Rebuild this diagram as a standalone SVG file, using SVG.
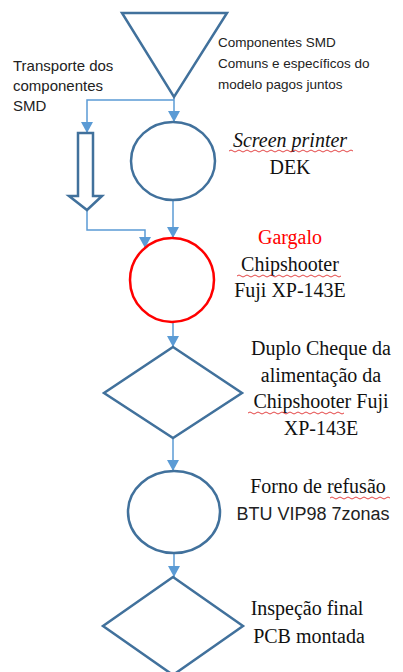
<svg xmlns="http://www.w3.org/2000/svg" width="403" height="672" viewBox="0 0 403 672">
<style>
.shape{fill:none;stroke:#41719C;stroke-width:2.5;stroke-linejoin:miter}
.red{fill:none;stroke:#FF0000;stroke-width:2.5}
.con{fill:none;stroke:#5B9BD5;stroke-width:1.5}
.sans{font-family:"Liberation Sans",Arial,sans-serif;font-size:13.5px;fill:#222}
.serif{font-family:"Liberation Serif","Times New Roman",serif;font-size:20px;fill:#111;text-anchor:middle}
.squig{fill:none;stroke:#E03030;stroke-width:0.9}
</style>
<defs>
<marker id="arrd" markerUnits="userSpaceOnUse" markerWidth="12" markerHeight="12" viewBox="0 0 12 12" refX="11" refY="6" orient="auto">
<path d="M0,0 L11,6 L0,12 Z" fill="#5B9BD5"/>
</marker>
</defs>
<rect width="403" height="672" fill="#fff"/>
<g id="connectors">
<path class="con" d="M174,98 L174,122" marker-end="url(#arrd)"/>
<path class="con" d="M174,100 L87,100 L87,133" marker-end="url(#arrd)"/>
<path class="con" d="M87,210 L87,230 L145,230 L145,248" marker-end="url(#arrd)"/>
<path class="con" d="M173,200 L173,238" marker-end="url(#arrd)"/>
<path class="con" d="M173,322 L173,347" marker-end="url(#arrd)"/>
<path class="con" d="M173,438 L173,471" marker-end="url(#arrd)"/>
<path class="con" d="M174,553 L174,577" marker-end="url(#arrd)"/>
</g>
<g id="inventory">
<polygon class="shape" points="122,13 227,13 174,97"/>
<text class="sans" x="218" y="47">Componentes SMD</text>
<text class="sans" x="218" y="68">Comuns e específicos do</text>
<text class="sans" x="218" y="89">modelo pagos  juntos</text>
</g>
<g id="transport">
<polygon class="shape" points="78,133 93,133 93,196 102,196 87,210 69,196 78,196"/>
<text class="sans" x="13" y="71" style="font-size:15px">Transporte dos</text>
<text class="sans" x="13" y="91" style="font-size:15px">componentes</text>
<text class="sans" x="13" y="111" style="font-size:15px">SMD</text>
</g>
<g id="screen-printer">
<ellipse class="shape" cx="173" cy="161" rx="42" ry="39"/>
<text class="serif" x="290" y="147" font-style="italic">Screen printer</text>
<text class="serif" x="290" y="174">DEK</text>
<path class="squig" d="M229,151 q2,-2 4,0 t4,0 t4,0 t4,0 t4,0 t4,0 t4,0 t4,0 t4,0 t4,0 t4,0 t4,0 t4,0 t4,0 t4,0 t4,0 t4,0 t4,0 t4,0 t4,0 t4,0 t4,0 t4,0 t4,0 t4,0 t4,0 t4,0 t4,0 t4,0 t4,0 t4,0"/>
</g>
<g id="chipshooter">
<ellipse class="red" cx="172" cy="280" rx="42" ry="42"/>
<text class="serif" x="290" y="244" style="fill:#FF0000">Gargalo</text>
<text class="serif" x="290" y="271">Chipshooter</text>
<text class="serif" x="290" y="297">Fuji XP-143E</text>
<path class="squig" d="M237,276 q2,-2 4,0 t4,0 t4,0 t4,0 t4,0 t4,0 t4,0 t4,0 t4,0 t4,0 t4,0 t4,0 t4,0 t4,0 t4,0 t4,0 t4,0 t4,0 t4,0 t4,0 t4,0 t4,0 t4,0 t4,0 t4,0 t4,0"/>
</g>
<g id="double-check">
<polygon class="shape" points="173,347 242,393 173,438 104,393"/>
<text class="serif" x="321" y="355">Duplo Cheque da</text>
<text class="serif" x="321" y="382">alimentação da</text>
<text class="serif" x="321" y="408">Chipshooter Fuji</text>
<text class="serif" x="321" y="435">XP-143E</text>
<path class="squig" d="M248,413 q2,-2 4,0 t4,0 t4,0 t4,0 t4,0 t4,0 t4,0 t4,0 t4,0 t4,0 t4,0 t4,0 t4,0 t4,0 t4,0 t4,0 t4,0 t4,0 t4,0 t4,0 t4,0 t4,0 t4,0 t4,0"/>
</g>
<g id="reflow">
<ellipse class="shape" cx="174" cy="512" rx="46" ry="41"/>
<text class="serif" x="318" y="493">Forno de refusão</text>
<text class="sans" x="313" y="520" text-anchor="middle" style="font-size:18px">BTU VIP98 7zonas</text>
<path class="squig" d="M330,498 q2,-2 4,0 t4,0 t4,0 t4,0 t4,0 t4,0 t4,0 t4,0 t4,0 t4,0 t4,0 t4,0 t4,0 t4,0 t4,0"/>
</g>
<g id="final-inspection">
<polygon class="shape" points="173,577 243,626 173,675 103,626"/>
<text class="serif" x="307" y="615">Inspeção final</text>
<text class="serif" x="309" y="643">PCB montada</text>
</g>
</svg>
